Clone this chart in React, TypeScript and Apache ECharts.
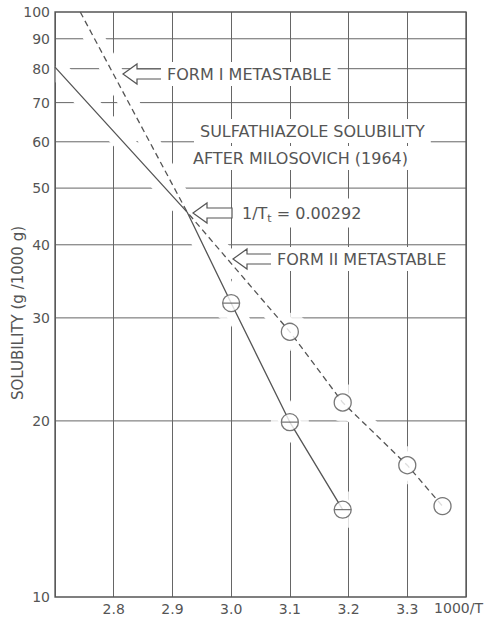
import React, { useEffect, useRef } from 'react';
import * as echarts from 'echarts';

// ---- data ----
const transitionX = 2.925; // 1/Tt = 0.00292
const transitionY = 45.5;
const formIIUpperX = [2.7];   // Form II line, stable part (solid), left end
const formIIUpperY = [80.5];
const formIUpperX = [2.743];  // Form I line, metastable part (dashed), top end
const formIUpperY = [100];
const formIMeasuredX = [3.0, 3.1, 3.19];
const formIMeasuredY = [31.8, 19.9, 14.1];
const formIIMeasuredX = [3.1, 3.19, 3.3, 3.36];
const formIIMeasuredY = [28.4, 21.5, 16.8, 14.3];
const yGridValues = [20, 30, 40, 50, 60, 70, 80, 90];
const xMin = 2.7;
const xMax = 3.4;
const xStep = 0.1;

const zip = (xs: number[], ys: number[]) => xs.map((x, i) => [x, ys[i]]);

const solidLine = [
  ...zip(formIIUpperX, formIIUpperY),
  [transitionX, transitionY],
  ...zip(formIMeasuredX, formIMeasuredY),
];
const dashedLine = [
  ...zip(formIUpperX, formIUpperY),
  [transitionX, transitionY],
  ...zip(formIIMeasuredX, formIIMeasuredY),
];

const INK = '#555';
const GRID = '#666';
const FONT = '"DejaVu Sans", sans-serif';

const arrow = (x: number, y: number) => ({
  type: 'polygon',
  z: 50,
  shape: {
    points: [
      [x, y],
      [x + 14, y - 10],
      [x + 14, y - 5],
      [x + 39, y - 5],
      [x + 39, y + 5],
      [x + 14, y + 5],
      [x + 14, y + 10],
    ],
  },
  style: { fill: '#fff', stroke: INK, lineWidth: 1.2 },
});

const label = (text: string, x: number, y: number, extra: any = {}) => ({
  type: 'text',
  z: 50,
  x,
  y,
  style: {
    text,
    fill: INK,
    fontSize: 16,
    fontFamily: FONT,
    verticalAlign: 'middle',
    align: 'left',
    backgroundColor: '#fff',
    padding: [4, 6],
    ...extra,
  },
});

export default function App() {
  const ref = useRef<HTMLDivElement>(null);
  useEffect(() => {
    if (!ref.current) return;
    const chart = echarts.init(ref.current, undefined, { renderer: 'svg' });
    const gridSeries = yGridValues.map((v) => ({
      type: 'line',
      data: [
        [xMin, v],
        [xMax, v],
      ],
      z: 1,
      silent: true,
      symbol: 'none',
      lineStyle: { color: GRID, width: 1 },
    }));
    const option: any = {
      animation: false,
      backgroundColor: '#fff',
      grid: {
        left: 55,
        right: 18,
        top: 12,
        bottom: 21,
        containLabel: false,
        outerBoundsMode: 'none',
      },
      xAxis: {
        type: 'value',
        min: xMin,
        max: xMax,
        interval: xStep,
        axisLine: { show: false },
        axisTick: { show: false },
        splitLine: { show: true, lineStyle: { color: GRID, width: 1 } },
        axisLabel: {
          color: INK,
          fontSize: 14,
          fontFamily: FONT,
          margin: 5,
          formatter: (v: number) => (v < 2.75 || v > 3.35 ? '' : v.toFixed(1)),
        },
      },
      yAxis: {
        type: 'log',
        logBase: 10,
        min: 10,
        max: 100,
        axisLine: { show: false },
        axisTick: { show: false },
        splitLine: { show: false },
        axisLabel: { color: INK, fontSize: 14, fontFamily: FONT, margin: 5 },
      },
      series: [
        // tick labels 20 ... 90 (the log axis only labels the decades)
        {
          type: 'line',
          data: [],
          silent: true,
          markLine: {
            silent: true,
            symbol: 'none',
            animation: false,
            lineStyle: { color: 'rgba(0,0,0,0)', width: 1, type: 'solid' },
            label: {
              show: true,
              position: 'start',
              distance: 5,
              color: INK,
              fontSize: 14,
              fontFamily: FONT,
              formatter: (p: any) => String(p.value),
            },
            data: yGridValues.map((v) => ({ yAxis: v })),
          },
        },
        // horizontal grid lines of the log paper
        ...gridSeries,
        // white halos that break the grid around the curves, as in the drafted original
        {
          type: 'line',
          data: solidLine,
          z: 10,
          silent: true,
          symbol: 'none',
          lineStyle: { color: '#fff', width: 20 },
        },
        {
          type: 'line',
          data: dashedLine,
          z: 10,
          silent: true,
          symbol: 'none',
          lineStyle: { color: '#fff', width: 20 },
        },
        {
          type: 'scatter',
          data: [...zip(formIMeasuredX, formIMeasuredY), ...zip(formIIMeasuredX, formIIMeasuredY)],
          z: 10,
          silent: true,
          symbolSize: 38,
          itemStyle: { color: '#fff' },
        },
        // curves
        {
          type: 'line',
          data: solidLine,
          z: 11,
          symbol: 'none',
          lineStyle: { color: INK, width: 1.3 },
        },
        {
          type: 'line',
          data: dashedLine,
          z: 11,
          symbol: 'none',
          lineStyle: { color: INK, width: 1.3, type: [6, 4] },
        },
        // measured points
        {
          type: 'scatter',
          name: 'Form I',
          data: zip(formIMeasuredX, formIMeasuredY),
          z: 12,
          symbol: 'path://M0,10A10,10,0,1,1,20,10A10,10,0,1,1,0,10ZM0,10L20,10',
          symbolSize: 17,
          itemStyle: { color: '#fff', borderColor: INK, borderWidth: 1.3 },
        },
        {
          type: 'scatter',
          name: 'Form II',
          data: zip(formIIMeasuredX, formIIMeasuredY),
          z: 12,
          symbol: 'circle',
          symbolSize: 17,
          itemStyle: { color: '#fff', borderColor: INK, borderWidth: 1.3 },
        },
      ],
      graphic: [
        {
          type: 'rect',
          z: 100,
          silent: true,
          shape: { x: 55, y: 12, width: 411, height: 585 },
          style: { fill: 'none', stroke: INK, lineWidth: 1.3 },
        },
        {
          type: 'text',
          z: 50,
          x: 18,
          y: 313,
          rotation: Math.PI / 2,
          style: {
            text: 'SOLUBILITY (g /1000 g)',
            fill: INK,
            fontSize: 15,
            fontFamily: FONT,
            align: 'center',
            verticalAlign: 'middle',
          },
        },
        arrow(123, 74),
        label('FORM I METASTABLE', 161, 74),
        label('SULFATHIAZOLE SOLUBILITY', 194, 131),
        label('AFTER MILOSOVICH (1964)', 187, 158),
        arrow(193, 213),
        {
          type: 'text',
          z: 50,
          x: 236,
          y: 213,
          style: {
            text: '1/T{sub|t} = 0.00292',
            fill: INK,
            fontSize: 16,
            fontFamily: FONT,
            verticalAlign: 'middle',
            align: 'left',
            backgroundColor: '#fff',
            padding: [4, 6],
            rich: {
              sub: { fontSize: 11, fontFamily: FONT, fill: INK, padding: [10, 0, 0, 0] },
            },
          },
        },
        arrow(233, 259),
        label('FORM II METASTABLE', 271, 259),
        {
          type: 'text',
          z: 50,
          x: 483,
          y: 608,
          style: {
            text: '1000/T',
            fill: INK,
            fontSize: 14,
            fontFamily: FONT,
            align: 'right',
            verticalAlign: 'middle',
          },
        },
      ],
    };
    chart.setOption(option);
    return () => chart.dispose();
  }, []);
  return (
    <div
      ref={ref}
      style={{ position: 'fixed', left: 0, top: 0, width: 484, height: 618, background: '#fff' }}
    />
  );
}
